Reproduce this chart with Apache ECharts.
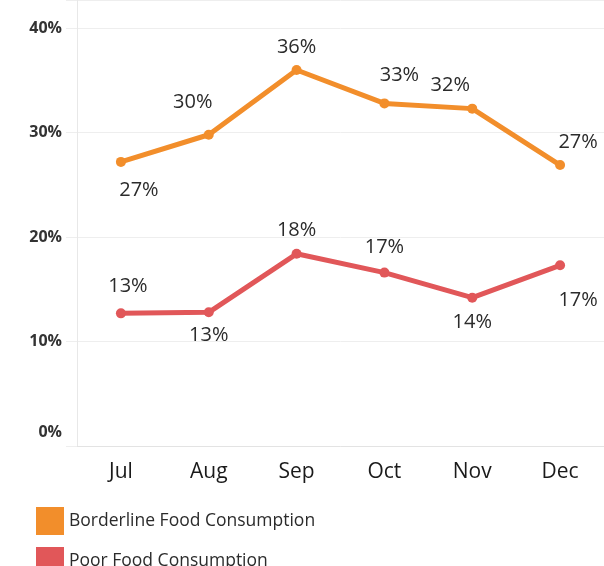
<!DOCTYPE html>
<html>
<head>
<meta charset="utf-8">
<script src="https://cdn.jsdelivr.net/npm/echarts@6/dist/echarts.min.js"></script>
<style>
  html, body { margin: 0; padding: 0; background: #fff; }
  #chart { width: 604px; height: 566px; }
</style>
</head>
<body>
<div id="chart"></div>
<script>
// months on the x axis
const months = ['Jul', 'Aug', 'Sep', 'Oct', 'Nov', 'Dec']
// share of households, percent
const borderline = [27.2, 29.8, 36.0, 32.8, 32.3, 26.9]
const poor = [12.7, 12.8, 18.4, 16.6, 14.2, 17.3]
// label placement per point (above / below, plus small nudges)
const borderlinePos = ['bottom', 'top', 'top', 'top', 'top', 'top']
const borderlineNudge = [[18, 5], [-16, -9], [0, 0], [15, -5], [-22, 0], [18, 0]]
const poorPos = ['top', 'bottom', 'top', 'top', 'bottom', 'bottom']
const poorNudge = [[7, -4], [0, 0], [0, -1], [0, -2], [0, 2], [18, 12]]

const font = 'Open Sans'
const orange = '#f28e2b'
const red = '#e15759'

function points(values, pos, nudge) {
  return values.map((v, i) => {
    return { value: v, label: { position: pos[i], offset: nudge[i] } }
  })
}

function lineSeries(name, values, pos, nudge, color) {
  return {
    name: name,
    type: 'line',
    data: points(values, pos, nudge),
    color: color,
    lineStyle: { width: 5 },
    symbol: 'circle',
    symbolSize: 10,
    label: {
      show: true, distance: 8, fontFamily: font, fontSize: 20, color: '#2b2b2b',
      formatter: (p) => Math.round(p.value) + '%'
    }
  }
}

const chart = echarts.init(document.getElementById('chart'))
chart.setOption({
  animation: false,
  grid: { left: 77, width: 531, top: 0, bottom: 120 },
  legend: {
    orient: 'vertical',
    left: 31,
    top: 502,
    height: 100,
    itemWidth: 28,
    itemHeight: 28,
    itemGap: 12,
    icon: 'rect',
    textStyle: { fontFamily: font, fontSize: 17.5, color: '#2b2b2b' },
    data: ['Borderline Food Consumption', 'Poor Food Consumption']
  },
  xAxis: {
    type: 'category',
    data: months,
    axisLine: { lineStyle: { color: '#e3e3e3' } },
    axisTick: { length: 10, lineStyle: { color: '#e3e3e3' } },
    axisLabel: { fontFamily: font, fontSize: 21, color: '#1a1a1a', margin: 16 }
  },
  yAxis: {
    type: 'value',
    min: 0,
    max: 42.7,
    interval: 10,
    axisLine: { show: true, lineStyle: { color: '#e8e8e8' } },
    axisTick: { show: true, length: 11, lineStyle: { color: '#eeeeee' } },
    splitLine: { lineStyle: { color: '#eeeeee' } },
    axisLabel: {
      fontFamily: font, fontSize: 16, fontWeight: 'bold', color: '#333', margin: 15,
      formatter: (v) => {
        if (v % 10 != 0) return ''
        return v == 0 ? '{z|0%}' : v + '%'
      },
      rich: { z: { fontFamily: font, fontSize: 16, fontWeight: 'bold', color: '#333', padding: [0, 0, 28, 0] } }
    }
  },
  series: [
    lineSeries('Borderline Food Consumption', borderline, borderlinePos, borderlineNudge, orange),
    lineSeries('Poor Food Consumption', poor, poorPos, poorNudge, red)
  ]
})
</script>
</body>
</html>
